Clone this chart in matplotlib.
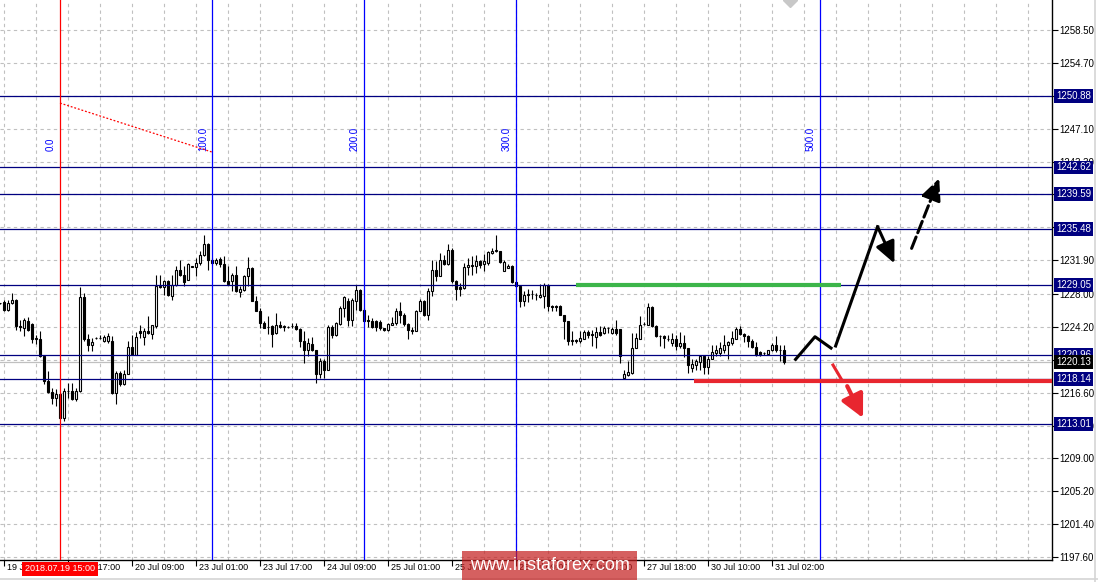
import numpy as np
import matplotlib.pyplot as plt
from matplotlib.transforms import blended_transform_factory
from matplotlib.patches import Rectangle
from matplotlib.lines import Line2D

plt.rcParams['font.family'] = ['Liberation Sans', 'DejaVu Sans']

# H1 candles, first bar is one hour before 19 Jul 01:00
opens = [
    1226.90, 1227.08, 1226.20, 1226.93, 1227.35, 1224.27, 1224.08, 1224.85, 1224.54, 1222.74,
    1222.81, 1220.81, 1217.93, 1216.66, 1215.93, 1216.39, 1213.62, 1216.77, 1216.77, 1215.81,
    1216.77, 1227.62, 1222.81, 1222.08, 1222.93, 1222.93, 1222.62, 1222.62, 1222.62, 1216.50,
    1218.89, 1217.54, 1218.77, 1221.89, 1221.00, 1223.70, 1223.00, 1223.77, 1223.43, 1224.27,
    1228.89, 1228.77, 1229.47, 1227.81, 1229.08, 1230.81, 1230.23, 1229.66, 1231.16, 1231.16,
    1231.58, 1232.47, 1233.77, 1231.97, 1231.58, 1232.08, 1231.47, 1229.47, 1229.47, 1230.23,
    1228.24, 1228.50, 1230.04, 1231.00, 1227.23, 1226.08, 1224.66, 1224.20, 1224.27, 1223.50,
    1224.47, 1224.24, 1224.20, 1224.31, 1224.35, 1223.97, 1222.54, 1221.58, 1222.23, 1221.47,
    1218.70, 1220.31, 1219.27, 1224.20, 1223.24, 1224.58, 1226.39, 1227.23, 1225.04, 1227.23,
    1228.50, 1226.20, 1225.00, 1224.93, 1224.85, 1224.77, 1224.08, 1223.81, 1224.47, 1224.66,
    1226.00, 1225.62, 1224.54, 1223.89, 1223.77, 1226.00, 1227.23, 1225.62, 1228.31, 1230.74,
    1230.12, 1231.89, 1231.50, 1233.04, 1229.47, 1228.77, 1228.70, 1231.08, 1231.39, 1231.20,
    1231.77, 1231.47, 1231.58, 1232.74, 1233.00, 1233.00, 1230.70, 1231.00, 1231.27, 1229.35,
    1228.89, 1227.16, 1227.93, 1228.00, 1227.85, 1227.66, 1227.74, 1229.08, 1226.58, 1226.58,
    1226.58, 1225.54, 1224.85, 1222.62, 1222.66, 1222.54, 1222.85, 1223.62, 1223.39, 1223.00,
    1223.62, 1223.50, 1224.08, 1223.50, 1223.97, 1223.97, 1218.24, 1218.62, 1218.89, 1221.77,
    1222.85, 1224.54, 1224.47, 1226.50, 1224.27, 1223.12, 1223.12, 1222.74, 1222.35, 1222.85,
    1222.04, 1222.35, 1221.70, 1219.47, 1219.85, 1220.16, 1220.81, 1219.54, 1220.54, 1221.20,
    1221.20, 1221.58, 1222.08, 1222.35, 1222.85, 1224.00, 1223.39, 1223.12, 1222.54, 1221.85,
    1221.31, 1221.20, 1221.08, 1221.47, 1222.16, 1221.47, 1221.47,
]
highs = [
    1227.00, 1227.35, 1227.35, 1228.12, 1227.46, 1225.04, 1225.23, 1225.31, 1224.66, 1223.31,
    1223.77, 1221.00, 1219.08, 1217.16, 1216.97, 1216.45, 1217.16, 1217.74, 1217.74, 1217.16,
    1228.77, 1228.12, 1223.39, 1222.93, 1223.00, 1223.24, 1223.31, 1223.50, 1223.20, 1219.08,
    1219.08, 1219.27, 1222.54, 1223.31, 1223.58, 1224.39, 1224.08, 1225.43, 1224.47, 1230.23,
    1230.23, 1229.66, 1229.66, 1230.23, 1231.20, 1231.89, 1231.20, 1231.58, 1231.20, 1232.16,
    1233.00, 1234.77, 1233.89, 1232.16, 1232.16, 1232.23, 1232.35, 1231.20, 1230.43, 1231.20,
    1228.89, 1230.23, 1232.23, 1231.08, 1227.74, 1226.39, 1224.85, 1225.43, 1224.47, 1225.81,
    1224.93, 1224.47, 1224.30, 1224.66, 1224.66, 1224.08, 1223.70, 1222.93, 1223.00, 1221.58,
    1220.62, 1220.43, 1224.47, 1224.47, 1224.77, 1226.58, 1227.74, 1227.54, 1227.54, 1229.00,
    1228.62, 1226.39, 1225.54, 1225.23, 1225.04, 1225.04, 1224.08, 1224.66, 1225.31, 1226.39,
    1227.08, 1225.81, 1224.66, 1224.16, 1226.20, 1227.47, 1227.35, 1228.70, 1231.97, 1231.77,
    1232.74, 1232.54, 1233.77, 1233.31, 1229.66, 1229.27, 1231.58, 1232.16, 1232.35, 1232.54,
    1231.97, 1232.62, 1232.93, 1233.31, 1234.85, 1233.00, 1231.89, 1231.47, 1231.39, 1229.47,
    1229.00, 1228.31, 1228.62, 1228.50, 1228.12, 1229.16, 1229.27, 1229.16, 1226.70, 1226.70,
    1226.70, 1225.62, 1224.93, 1223.70, 1222.74, 1223.70, 1223.89, 1223.89, 1223.89, 1224.16,
    1224.27, 1224.27, 1224.24, 1224.16, 1225.04, 1224.00, 1219.27, 1220.23, 1223.50, 1223.50,
    1225.43, 1224.77, 1226.97, 1226.58, 1224.39, 1223.31, 1223.31, 1223.31, 1223.50, 1223.31,
    1223.62, 1223.31, 1221.70, 1220.43, 1220.43, 1221.00, 1221.00, 1220.81, 1222.16, 1222.08,
    1222.47, 1223.24, 1222.62, 1223.70, 1224.16, 1224.27, 1223.50, 1223.31, 1222.74, 1222.47,
    1221.39, 1221.31, 1221.58, 1222.35, 1223.12, 1222.16, 1222.08,
]
lows = [
    1226.80, 1226.00, 1226.00, 1226.85, 1223.89, 1223.70, 1223.12, 1223.77, 1222.35, 1222.24,
    1220.73, 1217.54, 1216.58, 1215.31, 1215.04, 1213.50, 1213.31, 1216.00, 1215.70, 1215.62,
    1216.70, 1222.62, 1221.39, 1221.39, 1222.85, 1222.81, 1222.47, 1222.35, 1216.39, 1215.31,
    1217.35, 1217.47, 1218.70, 1221.00, 1221.00, 1222.93, 1222.16, 1223.39, 1222.74, 1224.08,
    1228.70, 1227.93, 1227.81, 1227.35, 1228.89, 1230.04, 1228.89, 1229.58, 1231.10, 1230.04,
    1231.39, 1232.35, 1230.81, 1231.39, 1231.39, 1231.08, 1229.39, 1229.08, 1228.31, 1228.24,
    1227.62, 1228.39, 1228.89, 1227.16, 1226.00, 1224.08, 1224.08, 1223.39, 1221.85, 1223.39,
    1224.08, 1223.70, 1224.10, 1224.08, 1223.89, 1221.85, 1220.04, 1220.81, 1221.39, 1217.74,
    1218.31, 1218.31, 1219.16, 1222.93, 1223.12, 1224.47, 1225.31, 1224.27, 1224.27, 1226.20,
    1226.08, 1224.77, 1224.16, 1224.08, 1223.70, 1223.89, 1223.77, 1223.70, 1224.47, 1224.47,
    1224.66, 1224.27, 1222.85, 1223.39, 1223.70, 1226.00, 1225.43, 1225.04, 1227.74, 1229.47,
    1230.04, 1231.39, 1231.39, 1229.27, 1227.35, 1227.74, 1228.62, 1230.23, 1230.23, 1230.43,
    1231.00, 1230.62, 1231.39, 1232.62, 1232.85, 1231.58, 1230.62, 1231.00, 1229.27, 1228.77,
    1226.47, 1226.58, 1227.08, 1227.47, 1227.35, 1227.54, 1226.39, 1226.00, 1226.00, 1226.08,
    1225.54, 1222.74, 1222.08, 1222.08, 1222.35, 1222.35, 1222.74, 1222.93, 1221.97, 1221.70,
    1223.12, 1223.39, 1223.47, 1223.39, 1223.31, 1220.04, 1218.20, 1218.50, 1218.70, 1221.70,
    1222.74, 1224.47, 1224.39, 1224.16, 1223.00, 1221.97, 1221.77, 1222.54, 1221.97, 1221.58,
    1221.77, 1220.70, 1218.89, 1219.00, 1219.27, 1219.27, 1218.70, 1218.70, 1220.43, 1220.81,
    1220.81, 1221.20, 1220.54, 1222.16, 1222.74, 1223.31, 1222.47, 1221.85, 1221.77, 1220.85,
    1220.81, 1221.00, 1221.00, 1221.39, 1221.31, 1220.23, 1219.93,
]
closes = [
    1226.90, 1226.20, 1226.97, 1227.35, 1224.35, 1224.16, 1225.04, 1223.89, 1222.74, 1222.93,
    1220.81, 1217.93, 1216.66, 1215.93, 1216.39, 1213.62, 1216.77, 1216.80, 1215.81, 1216.77,
    1227.62, 1222.74, 1222.08, 1222.43, 1222.93, 1222.93, 1223.04, 1223.12, 1216.50, 1218.89,
    1217.54, 1218.77, 1221.89, 1221.00, 1223.00, 1223.50, 1223.70, 1223.50, 1224.39, 1228.89,
    1228.77, 1229.47, 1227.93, 1229.08, 1230.81, 1230.23, 1229.39, 1231.47, 1231.16, 1231.58,
    1232.47, 1233.77, 1231.97, 1231.58, 1231.97, 1231.47, 1229.47, 1229.20, 1230.23, 1228.31,
    1228.58, 1230.04, 1231.00, 1227.23, 1226.08, 1224.66, 1224.08, 1224.24, 1223.39, 1224.47,
    1224.16, 1224.24, 1224.20, 1224.31, 1223.97, 1222.54, 1221.58, 1222.35, 1221.47, 1218.70,
    1220.31, 1219.27, 1224.20, 1223.24, 1224.66, 1226.39, 1227.66, 1225.04, 1227.35, 1228.50,
    1226.20, 1224.85, 1224.85, 1224.16, 1224.16, 1224.08, 1223.81, 1224.54, 1224.66, 1226.00,
    1225.62, 1224.54, 1223.85, 1223.70, 1226.00, 1227.23, 1225.62, 1228.31, 1230.74, 1230.04,
    1231.89, 1231.50, 1233.04, 1229.47, 1228.62, 1228.62, 1231.08, 1231.39, 1231.20, 1231.77,
    1231.39, 1231.77, 1232.85, 1233.00, 1233.04, 1231.66, 1231.70, 1231.27, 1229.35, 1228.89,
    1227.16, 1227.93, 1227.97, 1228.04, 1227.85, 1227.93, 1229.08, 1226.58, 1226.47, 1226.47,
    1225.54, 1224.85, 1222.62, 1222.66, 1222.54, 1222.93, 1223.62, 1223.31, 1223.24, 1223.62,
    1223.31, 1224.08, 1224.04, 1223.97, 1223.47, 1220.81, 1218.70, 1219.00, 1221.77, 1222.93,
    1224.47, 1224.58, 1226.50, 1224.27, 1223.12, 1223.12, 1222.93, 1222.74, 1222.85, 1221.97,
    1222.35, 1221.70, 1219.85, 1219.93, 1220.23, 1220.81, 1219.54, 1220.54, 1221.31, 1221.58,
    1221.77, 1222.08, 1222.47, 1222.93, 1224.00, 1223.39, 1223.12, 1222.54, 1221.85, 1220.93,
    1220.93, 1221.20, 1221.47, 1222.16, 1221.47, 1221.47, 1220.13,
]

# horizontal levels and price scale
levels = [1250.88, 1242.62, 1239.59, 1235.48, 1229.05, 1220.96, 1218.14, 1213.01]
bid = 1220.13
price_ticks = [1258.50, 1254.70, 1250.90, 1247.10, 1243.30, 1239.50, 1235.70, 1231.90,
               1228.00, 1224.20, 1220.40, 1216.60, 1212.80, 1209.00, 1205.20, 1201.40, 1197.60]
# ticks whose labels sit completely under a level box
hidden_ticks = [1250.90, 1239.50, 1235.70, 1220.40]

# time axis (bar index of each label)
time_pos = [0, 16, 32, 48, 64, 80, 96, 112, 128, 144, 160, 176, 192]
time_labels = ['19 Jul 01:00', '19 Jul 17:00', '20 Jul 09:00', '23 Jul 01:00', '23 Jul 17:00',
               '24 Jul 09:00', '25 Jul 01:00', '25 Jul 17:00', '26 Jul 09:00', '27 Jul 01:00',
               '27 Jul 18:00', '30 Jul 10:00', '31 Jul 02:00']

# fibonacci time zones
fib_pos = [14, 52, 90, 128, 204]
fib_labels = ['0.0', '100.0', '200.0', '300.0', '500.0']
fib_base = [(14, 1250.06), (52, 1244.40)]

# drawn zones and forecast arrows
green_zone = (143, 209.3, 1229.0)
red_zone = (172.4, 262, 1217.98)
path_a = [(197.9, 1220.45), (202.75, 1223.06), (206.75, 1221.75)]
path_b = [(207.9, 1221.99), (218.4, 1235.77), (222.6, 1231.54)]
path_c = [(226.9, 1233.27), (233.8, 1241.36)]
path_d = [(207.25, 1219.79), (209.6, 1217.95), (210.8, 1217.35), (214.75, 1213.67)]

navy = '#000080'

fig = plt.figure(figsize=(10.98, 5.82), dpi=100)
ax = fig.add_axes([0, 22 / 582, 1052 / 1098, 560 / 582])
ax.set_xlim(-1, 262)
ax.set_ylim(1197.26, 1261.97)

o = np.array(opens)
h = np.array(highs)
l = np.array(lows)
c = np.array(closes)
x = np.arange(-1, len(o) - 1)
up = c >= o

# candles
ax.vlines(x, l, h, color='black', lw=0.8, zorder=3)
ax.bar(x, np.maximum(np.abs(c - o), 0.03), bottom=np.minimum(o, c), width=0.72,
       color=np.where(up, 'white', 'black'), edgecolor='black', linewidth=0.8, zorder=3.5)

# grid
ax.set_yticks(price_ticks)
ax.set_yticklabels(['' if p in hidden_ticks else '%.2f' % p for p in price_ticks])
ax.set_xticks(time_pos)
ax.set_xticklabels([])
ax.set_xticks(np.arange(0, 262, 8), minor=True)
ax.grid(True, which='both', linestyle=(0, (3, 3)), color='#c0c0c0', lw=0.8)
ax.set_axisbelow(True)
ax.yaxis.tick_right()
ax.tick_params(axis='y', direction='out', length=4, width=0.8, pad=1, labelsize=7)
ax.tick_params(axis='x', which='major', direction='out', length=4, width=0.8)
ax.tick_params(axis='x', which='minor', length=0)
for s in ['top', 'left']:
    ax.spines[s].set_visible(False)
for s in ['right', 'bottom']:
    ax.spines[s].set_color('black')
    ax.spines[s].set_linewidth(1)

xtr = ax.get_xaxis_transform()
for p, lab in zip(time_pos, time_labels):
    ax.text(p + 0.75, -0.006, lab, transform=xtr, ha='left', va='top', fontsize=6.5,
            clip_on=False)

# horizontal lines
for lv in levels:
    ax.axhline(lv, color=navy, lw=0.9, zorder=5)
ax.axhline(bid, color='#c0c0c0', lw=0.9, zorder=2.5)

ytr = blended_transform_factory(ax.transAxes, ax.transData)
for lv in levels:
    ax.text(1.0038, lv, '%.2f' % lv, transform=ytr, ha='left', va='center', color='white',
            fontsize=7, zorder=10, clip_on=False,
            bbox=dict(boxstyle='square,pad=0.2', fc=navy, ec='none'))
ax.text(1.0038, bid, '%.2f' % bid, transform=ytr, ha='left', va='center', color='white',
        fontsize=7, zorder=10, clip_on=False,
        bbox=dict(boxstyle='square,pad=0.2', fc='black', ec='none'))

# fibonacci time zones
for i, (p, lab) in enumerate(zip(fib_pos, fib_labels)):
    col = '#ff0000' if i == 0 else '#0000ff'
    ax.axvline(p, color=col, lw=0.9, zorder=5)
    ax.text(p - 1.0, 1244.5, lab, rotation=90, ha='right', va='bottom', color='#0000ff',
            fontsize=7, zorder=6)
ax.plot(*zip(*fib_base), color='#ff0000', lw=0.9, linestyle=(0, (1.5, 1.5)), zorder=6)

ax.text(fib_pos[0], -0.016, '2018.07.19 15:00', transform=xtr, ha='center', va='center',
        color='white', fontsize=6.5, zorder=10, clip_on=False,
        bbox=dict(boxstyle='square,pad=0.3', fc='#ff0000', ec='none'))

# zones
ax.plot(green_zone[:2], [green_zone[2]] * 2, color='#3cb54a', lw=3, zorder=6,
        solid_capstyle='butt')
ax.plot(red_zone[:2], [red_zone[2]] * 2, color='#e8262f', lw=3, zorder=6,
        solid_capstyle='butt')

# forecast arrows
head = '-|>,head_length=1.3,head_width=0.6'
ax.plot(*zip(*path_a), color='black', lw=2.2, zorder=7)
ax.plot(*zip(*path_b[:2]), color='black', lw=2.2, zorder=7)
ax.annotate('', xy=path_b[2], xytext=path_b[1], zorder=7,
            arrowprops=dict(arrowstyle=head, color='black', lw=2.2, shrinkA=0, shrinkB=0))
ax.annotate('', xy=path_c[1], xytext=path_c[0], zorder=7,
            arrowprops=dict(arrowstyle=head, color='black', lw=2.2,
                            linestyle=(0, (4, 1.5)), shrinkA=0, shrinkB=0))
ax.plot(*zip(*path_d[:2]), color='#e8262f', lw=2.2, zorder=7)
ax.annotate('', xy=path_d[3], xytext=path_d[2], zorder=7,
            arrowprops=dict(arrowstyle='-|>,head_length=1.4,head_width=0.7',
                            color='#e8262f', lw=3, shrinkA=0, shrinkB=0))

# object marker at the top edge
ax.plot([196.5], [1261.97], marker='D', color='#c8c8c8', markersize=7, zorder=6)

# watermark
fig.patches.append(Rectangle((462 / 1098, 1 - 580 / 582), 175 / 1098, 29 / 582,
                             transform=fig.transFigure, fc=(0.77, 0.11, 0.11), alpha=0.7,
                             ec='none', zorder=20))
fig.text(549.5 / 1098, 1 - 566 / 582, 'www.instaforex.com', color='white', fontsize=13,
         ha='center', va='center', zorder=21)

# window borders
fig.lines.append(Line2D([1094.5 / 1098] * 2, [0, 1], transform=fig.transFigure,
                        color='#d4d4d4', lw=1.2))
fig.lines.append(Line2D([0, 1], [3 / 582] * 2, transform=fig.transFigure,
                        color='#d4d4d4', lw=1.2))

fig.savefig('out.png', dpi=100, facecolor='white')
